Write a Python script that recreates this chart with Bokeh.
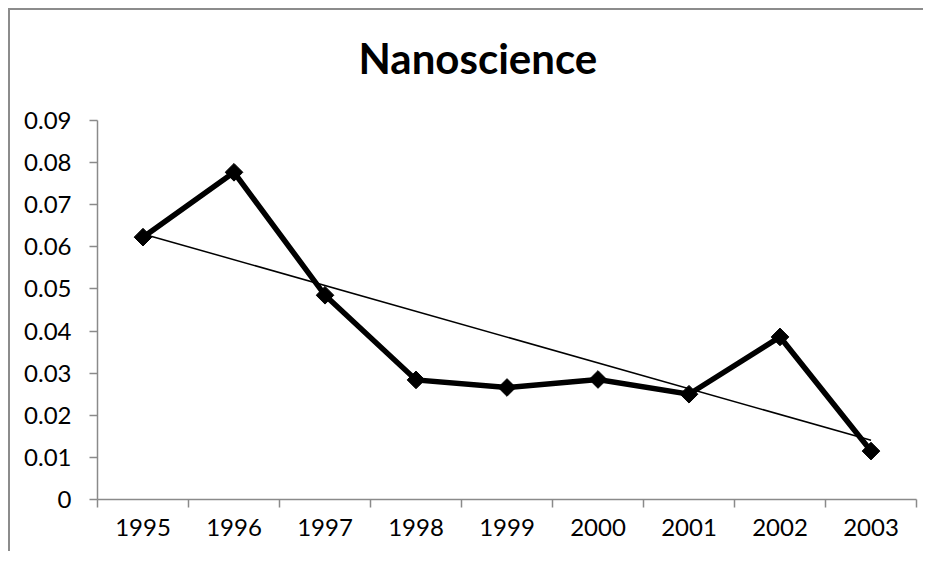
import numpy as np
from bokeh.plotting import figure
from bokeh.models import Range1d, LinearAxis, FixedTicker, CustomJSTickFormatter
from bokeh.embed import file_html
from bokeh.resources import INLINE

# ---- data ----
years = ["1995", "1996", "1997", "1998", "1999", "2000", "2001", "2002", "2003"]
values = [0.0623, 0.0777, 0.0485, 0.0284, 0.0266, 0.0285, 0.0250, 0.0386, 0.0115]
y_ticks = [0, 0.01, 0.02, 0.03, 0.04, 0.05, 0.06, 0.07, 0.08, 0.09]
title_text = "Nanoscience"

# category slots: each year occupies one unit, point at the slot centre
n = len(years)
x_pos = [i + 0.5 for i in range(n)]
edges = list(range(n + 1))

# linear trendline (least squares over category index)
slope, intercept = np.polyfit(x_pos, values, 1)
trend_x = [x_pos[0], x_pos[-1]]
trend_vals = [intercept + slope * x for x in trend_x]

GREY = "#8a8a8a"
FONT = "Lato"

p = figure(width=915, height=543,
           x_range=Range1d(0, n), y_range=Range1d(0, 0.09),
           x_axis_type=None, y_axis_type=None,
           output_backend="svg", toolbar_location=None,
           min_border_left=87, min_border_right=9,
           min_border_top=110, min_border_bottom=54)
p.styles = {"margin-left": "8px", "margin-top": "8px",
            "border-left": "2px solid #8c8c8c", "border-top": "2px solid #8c8c8c"}
p.outline_line_color = None
p.background_fill_color = "white"
p.border_fill_color = "white"

# title (placed with an invisible spacer axis between it and the frame)
p.title.text = title_text
p.title.align = "left"
p.title.offset = 261
p.title.vertical_align = "middle"
p.title.standoff = 0
p.title.text_font = FONT
p.title.text_font_style = "bold"
p.title.text_font_size = "42px"
p.title.text_color = "black"

spacer = LinearAxis(ticker=FixedTicker(ticks=[0.5]),
                    formatter=CustomJSTickFormatter(code="return '';"))
spacer.axis_line_color = None
spacer.major_tick_line_color = None
spacer.minor_tick_line_color = None
spacer.major_tick_out = 37
spacer.major_tick_in = 0
spacer.major_label_text_font_size = "0px"
spacer.major_label_standoff = 0
p.add_layout(spacer, "above")

# y axis
yax = LinearAxis(ticker=FixedTicker(ticks=y_ticks),
                 formatter=CustomJSTickFormatter(code="""
                    return tick.toFixed(2).replace(/0+$/, '').replace(/\\.$/, '');"""))
yax.axis_line_color = GREY
yax.axis_line_width = 1.5
yax.major_tick_line_color = GREY
yax.major_tick_line_width = 1.5
yax.major_tick_out = 8
yax.major_tick_in = 0
yax.minor_tick_line_color = None
yax.major_label_standoff = 18
yax.major_label_text_font = FONT
yax.major_label_text_font_size = "24px"
yax.major_label_text_color = "black"
p.add_layout(yax, "left")

# x axis: labels at slot centres, tick marks at slot boundaries
xax = LinearAxis(ticker=FixedTicker(ticks=x_pos, minor_ticks=edges),
                 formatter=CustomJSTickFormatter(args=dict(years=years),
                                                 code="return years[Math.floor(tick)];"))
xax.axis_line_color = GREY
xax.axis_line_width = 1.5
xax.major_tick_line_color = None
xax.major_tick_out = 8
xax.major_tick_in = 0
xax.minor_tick_line_color = GREY
xax.minor_tick_line_width = 1.5
xax.minor_tick_out = 8
xax.minor_tick_in = 0
xax.major_label_standoff = 11
xax.major_label_text_font = FONT
xax.major_label_text_font_size = "24px"
xax.major_label_text_color = "black"
p.add_layout(xax, "below")

# grid
p.ygrid.ticker = FixedTicker(ticks=y_ticks)
p.ygrid.grid_line_color = GREY
p.ygrid.grid_line_width = 1.5
p.xgrid.grid_line_color = None

# series
p.line(x_pos, values, line_color="black", line_width=5.5, line_join="miter")
p.scatter(x_pos, values, marker="square", angle=np.pi / 4, size=12.5,
          fill_color="black", line_color="black")
p.line(trend_x, trend_vals, line_color="black", line_width=1.5)

open("out.html", "w").write(file_html(p, INLINE))
